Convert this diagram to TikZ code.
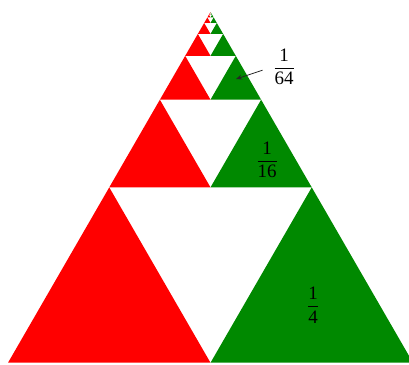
\documentclass[tikz,border=0pt]{standalone}
\usepackage{amsmath}
\usepackage{fontspec}
\setmainfont{Liberation Serif}
\usetikzlibrary{arrows.meta}
\definecolor{tred}{RGB}{255,0,0}
\definecolor{tgreen}{RGB}{0,137,0}
\newcommand{\myfrac}[2]{$\genfrac{}{}{0.9pt}{0}{\text{#1}}{\text{#2}}$}
\tikzset{
  redtri/.style={fill=tred},
  greentri/.style={fill=tgreen},
  frac/.style={inner sep=1pt,font=\fontsize{19}{23}\selectfont},
  pointer/.style={-{Stealth[length=6pt,width=5pt]},line width=0.8pt,black!85}
}
\begin{document}
\begin{tikzpicture}[x=1pt,y=-1pt]
\useasboundingbox (0,0) rectangle (409,364);
\begin{scope}
\clip (0,0) rectangle (409,364);
\foreach \k in {0,...,10} {
  \pgfmathsetmacro\s{405/2^\k}
  \pgfmathsetmacro\h{0.8660254*\s}
  \pgfmathsetmacro\ax{210.5}
  \pgfmathsetmacro\ay{12}
  \fill[redtri] (\ax-\s/2,\ay+\h) -- (\ax,\ay+\h) -- (\ax-\s/4,\ay+\h/2) -- cycle;
  \fill[greentri] (\ax,\ay+\h) -- (\ax+\s/2,\ay+\h) -- (\ax+\s/4,\ay+\h/2) -- cycle;
}
\end{scope}
\node[frac] (l4) at (313,305) {\myfrac{1}{4}};
\node[frac] (l16) at (267,160) {\myfrac{1}{16}};
\node[frac] (l64) at (284,67) {\myfrac{1}{64}};
\coordinate (t64) at (236,79);
\draw[pointer,shorten <=10pt] (l64.west) -- (t64);
\end{tikzpicture}
\end{document}
